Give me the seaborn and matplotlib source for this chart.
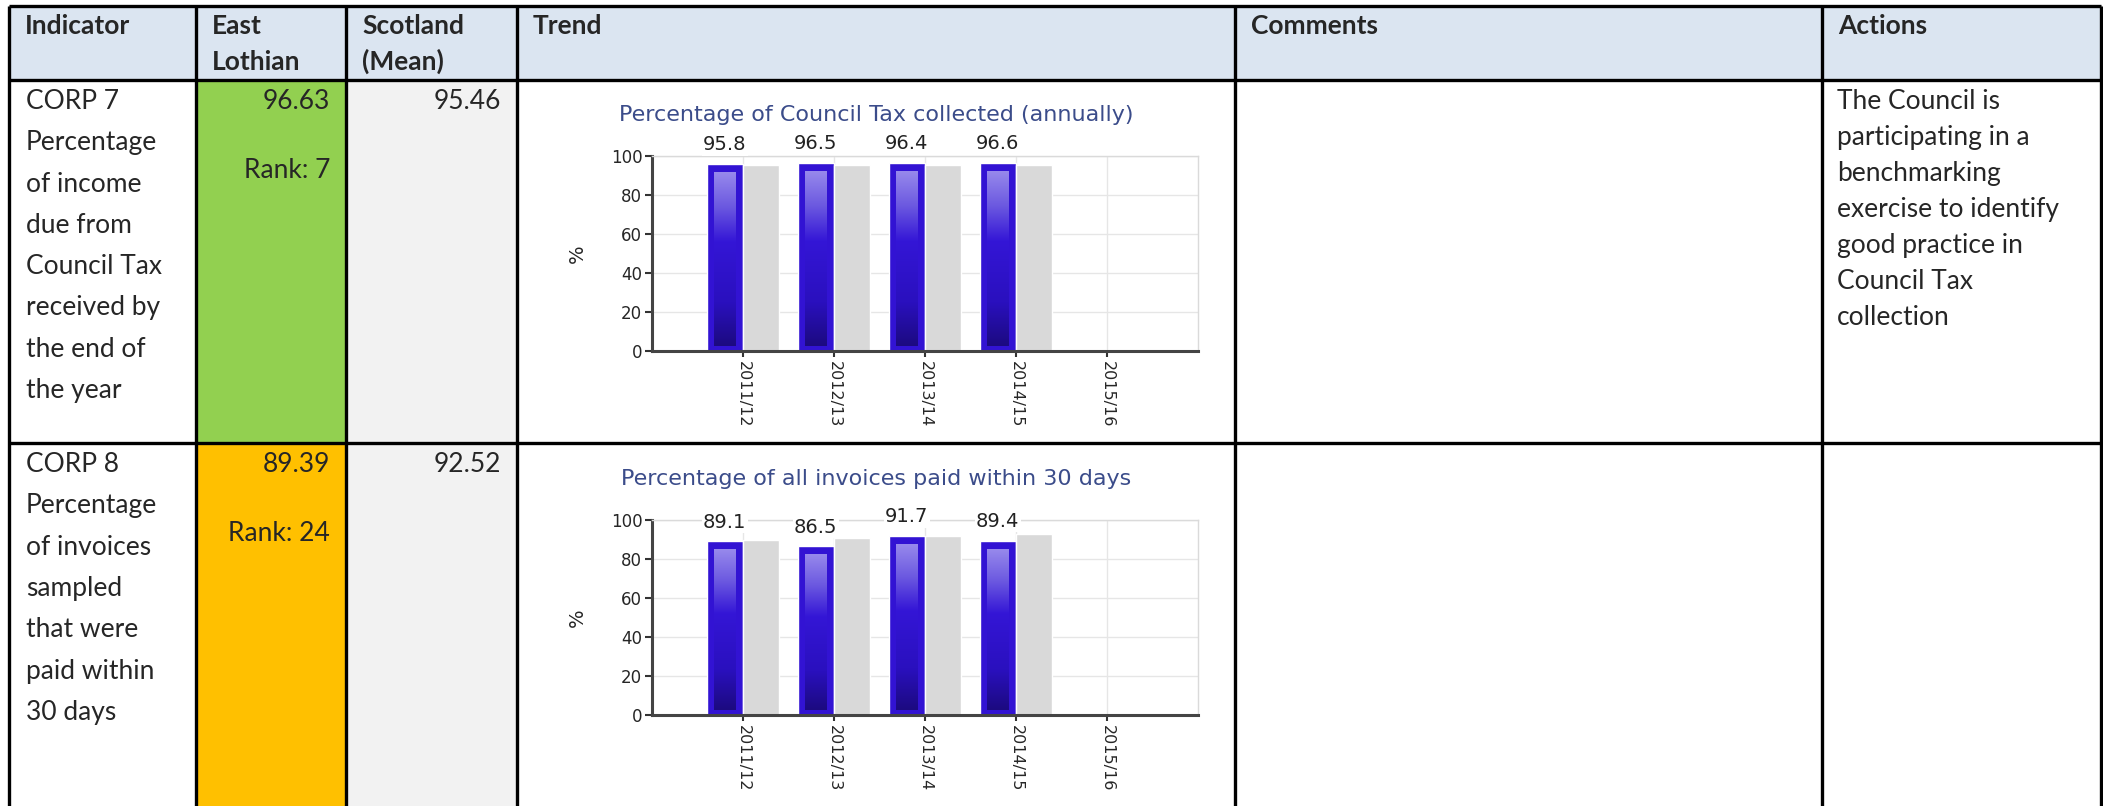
import numpy as np
import pandas as pd
import matplotlib
matplotlib.use("Agg")
import matplotlib.pyplot as plt
import seaborn as sns
from matplotlib.patches import Rectangle
from matplotlib.colors import LinearSegmentedColormap

# ----------------------------- data -----------------------------
YEARS = ["2011/12", "2012/13", "2013/14", "2014/15", "2015/16"]
CORP7_EAST = [95.8, 96.5, 96.4, 96.6]
CORP7_SCOT = [95.3, 95.3, 95.3, 95.3]
CORP8_EAST = [89.1, 86.5, 91.7, 89.4]
CORP8_SCOT = [89.7, 90.6, 91.8, 92.8]

HEADERS = [["Indicator"], ["East", "Lothian"], ["Scotland", "(Mean)"],
           ["Trend"], ["Comments"], ["Actions"]]
ROW_CODES = ["CORP 7", "CORP 8"]
ROW_DESC = [["Percentage", "of income", "due from", "Council Tax",
             "received by", "the end of", "the year"],
            ["Percentage", "of invoices", "sampled", "that were",
             "paid within", "30 days"]]
EAST_VALUES = ["96.63", "89.39"]
RANKS = ["Rank: 7", "Rank: 24"]
SCOT_VALUES = ["95.46", "92.52"]
CHART_TITLES = ["Percentage of Council Tax collected (annually)",
                "Percentage of all invoices paid within 30 days"]
ACTIONS = [["The Council is", "participating in a", "benchmarking",
            "exercise to identify", "good practice in", "Council Tax",
            "collection"], []]

# ----------------------------- layout -----------------------------
W, H = 2103, 806
COL_X = [9, 196, 346, 517, 1235, 1822, 2101]
ROW_Y = [6, 80, 443, 806]
HEADER_FILL = "#DBE5F1"
RAG_FILL = ["#92D050", "#FFC000"]
SCOT_FILL = "#F2F2F2"
BLUE = "#3213D3"
GREY = "#D9D9D9"
TITLE_COL = "#3B4C8A"

CHART_LEFT, CHART_RIGHT = 652, 1198
CHART_TOPS = [156, 520]
CHART_H = 195

sns.set_style("white")
plt.rcParams["font.family"] = ["DejaVu Sans"]
TFONT = ["Lato", "DejaVu Sans"]

fig = plt.figure(figsize=(W / 100, H / 100), dpi=100)
tab = fig.add_axes([0, 0, 1, 1])
tab.set_xlim(0, W)
tab.set_ylim(H, 0)
tab.axis("off")

# cell fills
tab.add_patch(Rectangle((COL_X[0], ROW_Y[0]), COL_X[-1] - COL_X[0], ROW_Y[1] - ROW_Y[0],
                        fc=HEADER_FILL, lw=0))
for r in range(2):
    tab.add_patch(Rectangle((COL_X[1], ROW_Y[r + 1]), COL_X[2] - COL_X[1],
                            ROW_Y[r + 2] - ROW_Y[r + 1], fc=RAG_FILL[r], lw=0))
    tab.add_patch(Rectangle((COL_X[2], ROW_Y[r + 1]), COL_X[3] - COL_X[2],
                            ROW_Y[r + 2] - ROW_Y[r + 1], fc=SCOT_FILL, lw=0))

# borders
tab.hlines(ROW_Y[:3], COL_X[0], COL_X[-1], color="black", lw=2.4)
tab.vlines(COL_X, ROW_Y[0], H, color="black", lw=2.4)

# header text
for i, lines in enumerate(HEADERS):
    for j, t in enumerate(lines):
        tab.text(COL_X[i] + 16, 34 + 36 * j, t, family=TFONT, fontsize=19,
                 fontweight="bold", va="baseline", ha="left")

# body text
for r in range(2):
    top = ROW_Y[r + 1]
    for j, t in enumerate([ROW_CODES[r]] + ROW_DESC[r]):
        tab.text(COL_X[0] + 17, top + 29 + 41.3 * j, t, family=TFONT, fontsize=19,
                 va="baseline", ha="left")
    tab.text(330, top + 29, EAST_VALUES[r], family=TFONT, fontsize=19, va="baseline", ha="right")
    tab.text(330, top + 98, RANKS[r], family=TFONT, fontsize=19, va="baseline", ha="right")
    tab.text(501, top + 29, SCOT_VALUES[r], family=TFONT, fontsize=19, va="baseline", ha="right")
    for j, t in enumerate(ACTIONS[r]):
        tab.text(COL_X[5] + 15, top + 29 + 36 * j, t, family=TFONT, fontsize=19,
                 va="baseline", ha="left")

# ----------------------------- trend charts -----------------------------
grad_cmap = LinearSegmentedColormap.from_list(
    "bar", [(0, "#1C0A80"), (0.25, "#2A10BE"), (0.6, "#3416D6"),
            (0.8, "#6B58E0"), (1.0, "#9789EC")])
grad = np.linspace(0, 1, 256).reshape(-1, 1)

series = [(CORP7_EAST, CORP7_SCOT), (CORP8_EAST, CORP8_SCOT)]
for r, (east, scot) in enumerate(series):
    top = CHART_TOPS[r]
    ax = fig.add_axes([CHART_LEFT / W, 1 - (top + CHART_H) / H,
                       (CHART_RIGHT - CHART_LEFT) / W, CHART_H / H])
    df = pd.DataFrame({
        "Year": YEARS[:len(east)] * 2,
        "Area": ["East Lothian"] * len(east) + ["Scotland"] * len(scot),
        "Value": east + scot,
    })
    sns.barplot(data=df, x="Year", y="Value", hue="Area", order=YEARS,
                hue_order=["East Lothian", "Scotland"], palette=[BLUE, GREY],
                saturation=1, errorbar=None, legend=False, width=0.8, ax=ax)

    for p in ax.containers[0]:
        x0, w, h = p.get_x(), p.get_width(), p.get_height()
        ax.imshow(grad, extent=(x0 + 0.21 * w, x0 + 0.8 * w, 2.5, h - 4.5),
                  origin="lower", aspect="auto", cmap=grad_cmap,
                  zorder=p.get_zorder() + 0.1)

    ax.bar_label(ax.containers[0], labels=[f"{v:.1f}" for v in east], padding=7,
                 fontsize=14, color="#222222",
                 bbox=dict(fc="white", ec="none", pad=1))

    ax.set_xlim(-1, 5)
    ax.set_ylim(0, 100)
    ax.set_yticks(range(0, 101, 20))
    ax.set_axisbelow(True)
    ax.grid(True, color="#E6E6E6", lw=1)
    ax.set_xlabel("")
    ax.set_ylabel("%", fontsize=14, labelpad=17)
    ax.set_title(CHART_TITLES[r], fontsize=16, color=TITLE_COL, pad=25,
                 x=(876 - CHART_LEFT) / (CHART_RIGHT - CHART_LEFT))
    ax.tick_params(axis="x", rotation=-90, labelsize=11.5, length=4, width=1.5,
                   pad=3, color="#333333", bottom=True)
    ax.tick_params(axis="y", labelsize=12, length=5, width=1.5, pad=2,
                   color="#333333", left=True)
    for s in ["left", "bottom"]:
        ax.spines[s].set_color("#444444")
        ax.spines[s].set_linewidth(2.2)
    for s in ["top", "right"]:
        ax.spines[s].set_color("#DADADA")
        ax.spines[s].set_linewidth(1)

fig.savefig("out.png", dpi=100)
